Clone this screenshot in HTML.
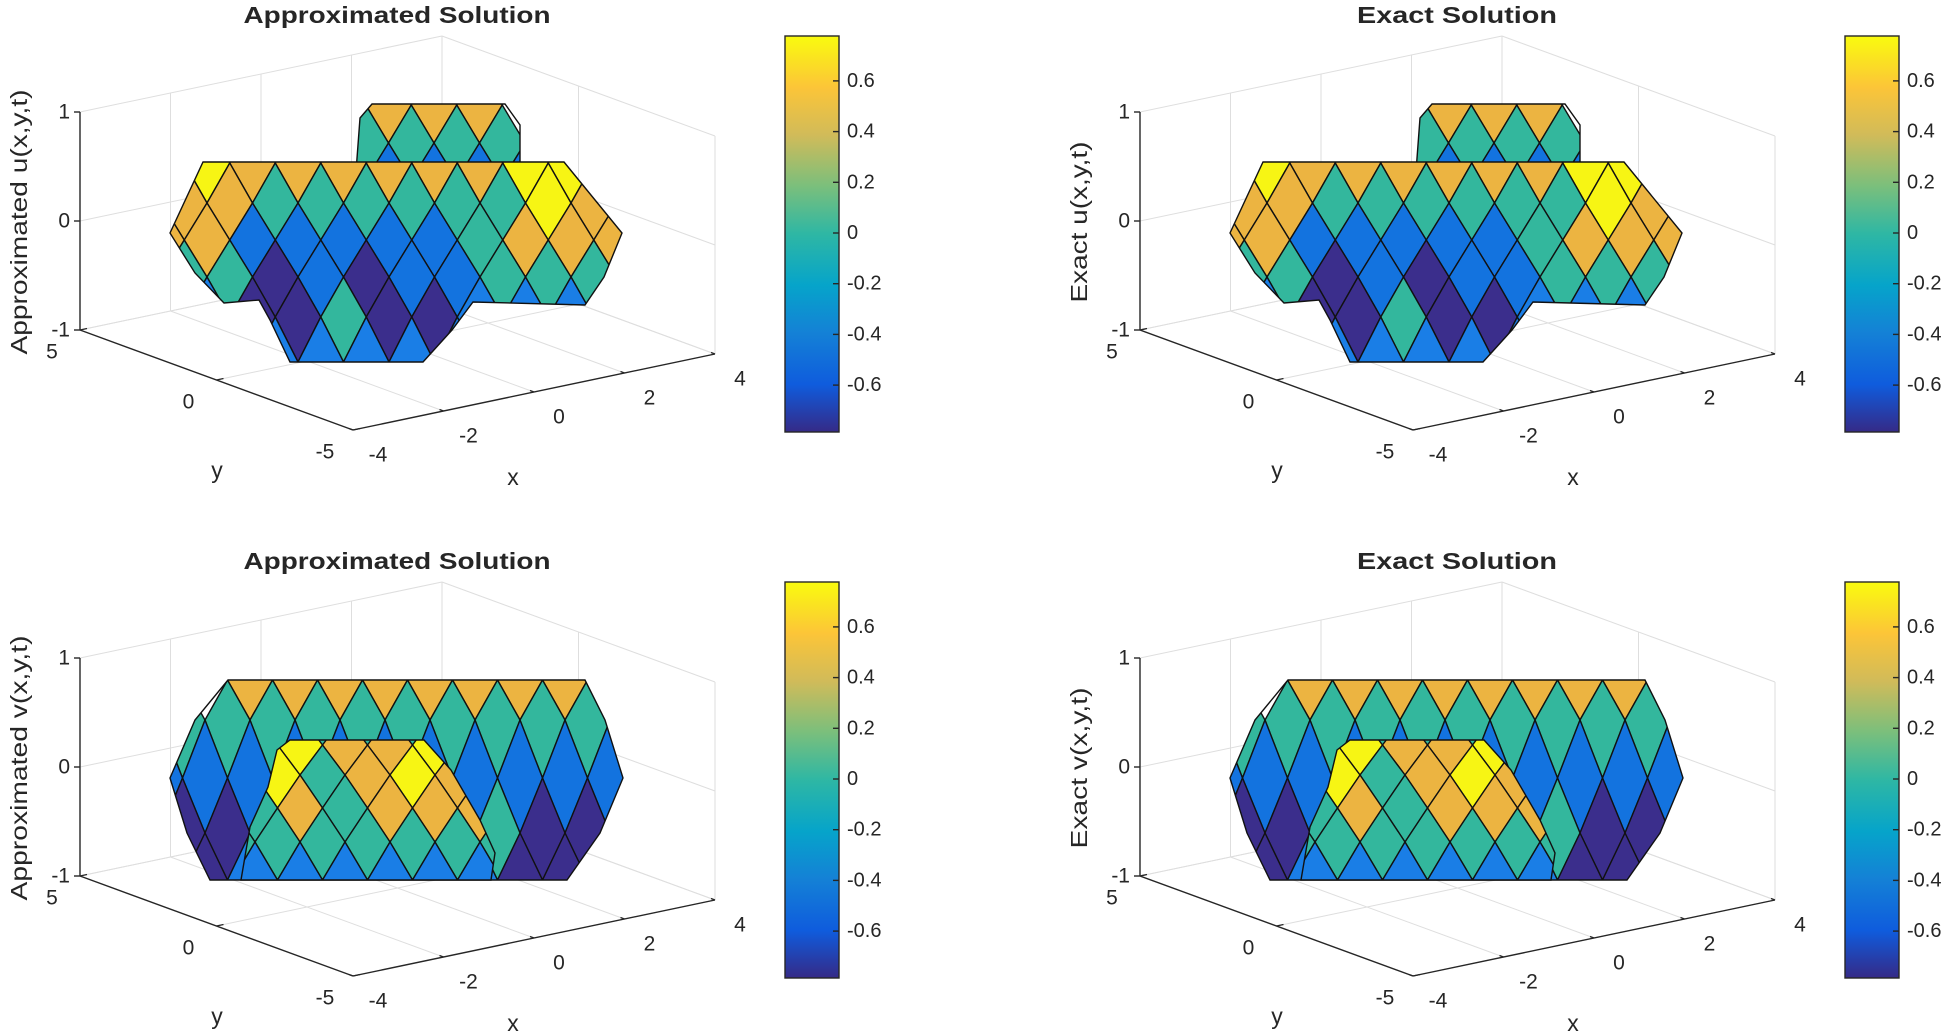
<!DOCTYPE html>
<html><head><meta charset="utf-8">
<style>
html,body{margin:0;padding:0;background:#fff;}
svg{display:block;font-family:"Liberation Sans",Arial,sans-serif;}
</style></head>
<body>
<svg id="s" width="1950" height="1033" viewBox="0 0 1950 1033" xmlns="http://www.w3.org/2000/svg">
<defs>
<linearGradient id="par" x1="0" y1="1" x2="0" y2="0">
<stop offset="0" stop-color="#352a87"/>
<stop offset="0.12" stop-color="#0f5cdd"/>
<stop offset="0.25" stop-color="#1481d6"/>
<stop offset="0.37" stop-color="#06a4ca"/>
<stop offset="0.5" stop-color="#2eb7a4"/>
<stop offset="0.62" stop-color="#7abf7c"/>
<stop offset="0.75" stop-color="#d1bb59"/>
<stop offset="0.87" stop-color="#fcc538"/>
<stop offset="1" stop-color="#f9fb0e"/>
</linearGradient>
</defs>
</svg>
<script>
(function(){
var NS="http://www.w3.org/2000/svg",S=document.getElementById('s'),defs=S.querySelector('defs');
var C={o:'#ecb441',t:'#33b79d',b:'#1373df',p:'#3b2e8c',y:'#f7f514',l:'#1a7ee6'};
var cid=0;
function el(n,a,p,txt){var e=document.createElementNS(NS,n);for(var k in a)e.setAttribute(k,a[k]);if(txt!==undefined)e.textContent=txt;(p||S).appendChild(e);return e;}
function P(x,y,z,ox,oy){return [397.5+45.25*x-27.3*y+ox,233-9.5*x-10*y-109*z+oy];}
function line(a,b,st,w,p){el('line',{x1:a[0],y1:a[1],x2:b[0],y2:b[1],stroke:st,'stroke-width':w},p);}
function text(x,y,s,o){var a={x:x,y:y,'font-size':o.fs||20,fill:'#262626','text-anchor':o.anchor||'middle','dominant-baseline':'central'};
 if(o.bold)a['font-weight']='bold';if(o.len){a.textLength=o.len;a.lengthAdjust='spacingAndGlyphs';}
 if(o.rot)a.transform='rotate(-90 '+x+' '+y+')';return el('text',a,S,s);}
function region(clip,c0,W,L,rows,dx,dy){
 var id='c'+(cid++);var cp=el('clipPath',{id:id},defs);
 el('polygon',{points:clip.map(function(p){return (p[0]+dx)+','+(p[1]+dy);}).join(' ')},cp);
 var g=el('g',{'clip-path':'url(#'+id+')'});
 for(var k=0;k<rows.length;k++){
  var top=k>0?L[k-1]:L[0]-(L[1]-L[0]);var bot=k<L.length-1?L[k+1]:L[k]+(L[k]-L[k-1]);
  var st=c0+(k%2?-W/2:0);
  for(var m=0;m<rows[k].length;m++){var ch=rows[k][m];if(ch=='.')continue;
   var x=st+m*W+dx;var yy=L[k]+dy;
   el('polygon',{points:[x,top+dy,x+W/2,yy,x,bot+dy,x-W/2,yy].join(','),fill:C[ch],stroke:'#111','stroke-width':1.4,'stroke-linejoin':'round'},g);}
 }
 el('polygon',{points:clip.map(function(p){return (p[0]+dx)+','+(p[1]+dy);}).join(' '),fill:'none',stroke:'#111','stroke-width':1.4});
}
function axes(ox,oy,zl,zlen,title,tlen,surf){
 var gc='#dedede';var g=el('g',{});
 [-4,-2,0,2,4].forEach(function(x){line(P(x,-5,-1,ox,oy),P(x,5,-1,ox,oy),gc,1,g);line(P(x,5,-1,ox,oy),P(x,5,1,ox,oy),gc,1,g);});
 [-5,0,5].forEach(function(y){line(P(-4,y,-1,ox,oy),P(4,y,-1,ox,oy),gc,1,g);line(P(4,y,-1,ox,oy),P(4,y,1,ox,oy),gc,1,g);});
 [-1,0,1].forEach(function(z){line(P(-4,5,z,ox,oy),P(4,5,z,ox,oy),gc,1,g);line(P(4,-5,z,ox,oy),P(4,5,z,ox,oy),gc,1,g);});
 surf();
 var ac='#262626';
 line(P(-4,5,-1,ox,oy),P(-4,5,1,ox,oy),ac,1.4);
 line(P(-4,5,-1,ox,oy),P(-4,-5,-1,ox,oy),ac,1.4);
 line(P(-4,-5,-1,ox,oy),P(4,-5,-1,ox,oy),ac,1.4);
 [-1,0,1].forEach(function(z){var p=P(-4,5,z,ox,oy);line(p,[p[0]-6,p[1]],ac,1.4);text(p[0]-10,p[1],String(z),{anchor:'end',fs:21});});
 [-5,0,5].forEach(function(y){var p=P(-4,y,-1,ox,oy);line(p,[p[0]+7,p[1]-1.5],ac,1.4);text(p[0]-28,p[1]+22,String(y),{fs:21});});
 [-4,-2,0,2,4].forEach(function(x){var p=P(x,-5,-1,ox,oy);line(p,[p[0]-4,p[1]-1.5],ac,1.4);text(p[0]+25,p[1]+25,String(x),{fs:21});});
 text(513+ox,477+oy,'x',{fs:23});text(217+ox,470+oy,'y',{fs:23});
 text(19+ox,222+oy,zl,{fs:23,rot:1,len:zlen});
 text(397+ox,15+oy,title,{fs:23,bold:1,len:tlen});
 el('rect',{x:785+ox,y:36+oy,width:54,height:396,fill:'url(#par)',stroke:'#262626','stroke-width':1.4});
 [-0.6,-0.4,-0.2,0,0.2,0.4,0.6].forEach(function(v){var y=233-v/0.2*50.7+oy;line([833+ox,y],[839+ox,y],ac,1.4);
  text(847+ox,y,(v==0?'0':v.toFixed(1)),{anchor:'start',fs:20});});
}
function surfTop(dx,dy){return function(){
 region([[360,118],[372,104],[505,104],[520,125],[520,185],[355,185]],343,45.5,[105,143,180],[".ooo.","ttttt","bbbbb"],dx,dy);
 region([[170,233],[203,162],[564,162],[622,233],[604,277],[585,305],[473,302],[452,330],[423,362],[290,362],[270,320],[259,300],[224,303],[195,273]],
  161.5,45.5,[163,203,240,277,317,362],["oyooooooyyo","ooottttttyoo","oobbbbbtooo","tttpbpbbtttt","llpptppllll","...llllll..."],dx,dy);
};}
function surfBot(dx,dy){return function(){
 region([[170,778],[195,720],[228,680],[585,680],[605,720],[623,778],[600,833],[567,880],[210,880],[187,833]],
  160,45,[680,720,778,833,880],["t.oooooooo.t","ttttttttttttt","bbbbbbbbbbbb","pppttttttpppp","ppllllllpplp"],dx,dy);
 region([[268,787],[277,750],[290,740],[424,740],[451,770],[480,820],[495,853],[491,880],[241,880],[250,827]],
  255,45,[745,775,808,842,880],["oyooyo","tytoyot","totooo","ttttttt","llllll"],dx,dy);
};}
axes(0,0,'Approximated u(x,y,t)',265,'Approximated Solution',307,surfTop(0,0));
axes(1060,0,'Exact u(x,y,t)',161,'Exact Solution',200,surfTop(1060,0));
axes(0,546,'Approximated v(x,y,t)',265,'Approximated Solution',307,surfBot(0,0));
axes(1060,546,'Exact v(x,y,t)',161,'Exact Solution',200,surfBot(1060,0));
})();
</script>
</body></html>
